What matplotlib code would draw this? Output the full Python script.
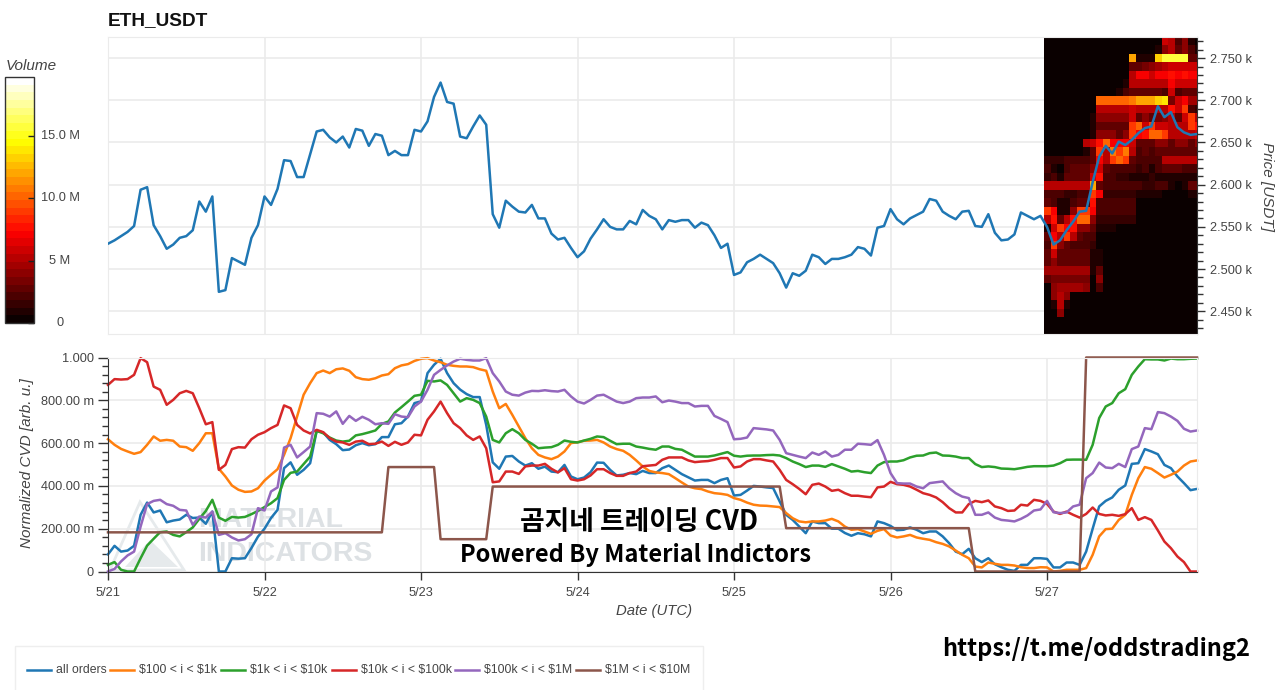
import matplotlib
matplotlib.use('agg')
import matplotlib.pyplot as plt
from matplotlib.lines import Line2D
from matplotlib.patches import Polygon, Rectangle
from matplotlib.ticker import MultipleLocator
import numpy as np

plt.rcParams['font.family'] = ['Liberation Sans', 'DejaVu Sans']

W, H = 1280, 690

day_labels = ['5/21', '5/22', '5/23', '5/24', '5/25', '5/26', '5/27']
price_ticks = [2450, 2500, 2550, 2600, 2650, 2700, 2750]
price_labels = ['2.450 k', '2.500 k', '2.550 k', '2.600 k', '2.650 k', '2.700 k', '2.750 k']
cvd_ticks = [0, 0.2, 0.4, 0.6, 0.8, 1.0]
cvd_labels = ['0', '200.00 m', '400.00 m', '600.00 m', '800.00 m', '1.000']
vol_ticks = [0, 5, 10, 15]
vol_labels = ['0', '5 M', '10.0 M', '15.0 M']

# hourly close, starts 5/21 00:00
price = [
    2530, 2534, 2539, 2544, 2551, 2594, 2597, 2552, 2539, 2524,
    2529, 2537, 2539, 2546, 2580, 2568, 2586, 2473, 2475, 2513,
    2509, 2505, 2537, 2552, 2586, 2576, 2595, 2629, 2628, 2609,
    2609, 2636, 2663, 2665, 2656, 2650, 2657, 2644, 2666, 2664,
    2646, 2660, 2658, 2635, 2640, 2635, 2635, 2665, 2663, 2675,
    2704, 2721, 2698, 2696, 2657, 2655, 2669, 2682, 2671, 2565,
    2549, 2581, 2574, 2568, 2567, 2576, 2560, 2560, 2542, 2535,
    2537, 2525, 2514, 2521, 2536, 2547, 2559, 2550, 2547, 2547,
    2557, 2553, 2570, 2563, 2559, 2547, 2558, 2556, 2558, 2558,
    2549, 2555, 2552, 2540, 2525, 2530, 2493, 2496, 2508, 2512,
    2517, 2512, 2507, 2495, 2478, 2495, 2492, 2498, 2517, 2514,
    2506, 2512, 2512, 2514, 2517, 2526, 2524, 2516, 2549, 2551,
    2571, 2559, 2553, 2560, 2564, 2568, 2583, 2581, 2568, 2563,
    2559, 2568, 2569, 2551, 2550, 2565, 2543, 2534, 2535, 2541,
    2567, 2563, 2559, 2563, 2550, 2529, 2534, 2546, 2556, 2568,
    2569, 2603, 2633, 2646, 2637, 2651, 2647, 2653, 2661, 2667,
    2669, 2693, 2680, 2686, 2668, 2662, 2659, 2660,
]

all_orders = [
    .08, .12, .093, .098, .12, .265, .322, .276, .285, .23,
    .238, .243, .265, .25, .252, .223, .28, 0, 0, .062,
    .06, .062, .11, .163, .2, .25, .288, .483, .51, .452,
    .475, .506, .657, .65, .615, .595, .567, .57, .59, .6,
    .59, .595, .628, .628, .688, .693, .724, .787, .795, .927,
    .966, .994, .927, .88, .85, .829, .815, .815, .685, .51,
    .48, .537, .54, .514, .495, .506, .48, .49, .467, .464,
    .498, .444, .431, .439, .464, .509, .508, .475, .449, .452,
    .46, .455, .47, .46, .46, .483, .495, .475, .455, .44,
    .425, .428, .428, .413, .428, .436, .355, .358, .378, .4,
    .397, .393, .39, .327, .265, .241, .21, .179, .234, .226,
    .226, .2, .2, .18, .167, .179, .174, .164, .234, .226,
    .213, .193, .195, .206, .195, .179, .187, .187, .164, .132,
    .093, .081, .106, .062, .044, .062, .034, .02, .008, .003,
    .031, .031, .062, .062, .059, .019, .019, .042, .042, .031,
    .093, .2, .304, .33, .346, .382, .402, .503, .506, .572,
    .561, .548, .498, .483, .444, .413, .38, .386,
]
size_100_1k = [
    .618, .592, .573, .561, .55, .558, .592, .631, .611, .615,
    .611, .584, .581, .564, .6, .646, .646, .48, .444, .402,
    .382, .372, .374, .389, .425, .452, .478, .545, .623, .724,
    .826, .88, .927, .939, .927, .945, .949, .938, .908, .899,
    .896, .903, .916, .922, .95, .963, .969, .984, .994, .997,
    .986, .978, .966, .961, .958, .958, .955, .945, .938, .841,
    .763, .783, .732, .678, .623, .576, .545, .533, .525, .537,
    .561, .6, .604, .611, .612, .615, .603, .584, .572, .564,
    .545, .519, .491, .47, .463, .46, .455, .436, .416, .397,
    .389, .385, .374, .366, .363, .358, .343, .335, .322, .312,
    .308, .307, .304, .301, .273, .249, .234, .23, .234, .234,
    .238, .246, .234, .21, .195, .198, .187, .176, .19, .198,
    .168, .159, .164, .171, .159, .153, .148, .137, .129, .117,
    .098, .078, .062, .023, .019, .042, .036, .031, .031, .028,
    .02, .016, .016, .02, .019, 0, .003, .008, .008, .008,
    .016, .078, .164, .198, .2, .241, .265, .358, .436, .488,
    .48, .46, .439, .452, .467, .495, .514, .519,
]
size_1k_10k = [
    .031, .044, .008, 0, 0, .062, .121, .153, .184, .187,
    .171, .164, .184, .206, .246, .283, .335, .252, .237, .255,
    .252, .255, .268, .283, .301, .319, .343, .428, .461, .467,
    .502, .537, .657, .646, .626, .612, .607, .611, .636, .642,
    .65, .659, .69, .701, .743, .768, .794, .821, .826, .891,
    .888, .893, .872, .833, .794, .81, .802, .787, .724, .615,
    .603, .646, .665, .646, .615, .597, .576, .579, .581, .592,
    .612, .606, .603, .612, .62, .631, .628, .611, .595, .597,
    .597, .584, .579, .573, .569, .584, .584, .573, .569, .553,
    .537, .537, .537, .542, .55, .558, .541, .537, .541, .542,
    .542, .544, .545, .542, .53, .514, .502, .488, .495, .495,
    .489, .502, .491, .48, .467, .47, .464, .46, .495, .511,
    .514, .514, .52, .533, .541, .542, .553, .556, .542, .541,
    .537, .53, .53, .502, .488, .491, .488, .481, .48, .478,
    .483, .489, .492, .492, .492, .495, .506, .522, .523, .523,
    .522, .592, .717, .771, .787, .833, .852, .919, .958, .992,
    .991, .991, .986, .995, .992, .992, .994, .995,
]
size_10k_100k = [
    .872, .899, .897, .899, .919, .997, .978, .864, .849, .779,
    .802, .833, .844, .833, .763, .688, .698, .475, .498, .572,
    .581, .579, .618, .639, .651, .67, .685, .776, .763, .685,
    .659, .645, .662, .651, .623, .607, .603, .592, .607, .611,
    .595, .597, .607, .587, .606, .592, .603, .639, .636, .709,
    .748, .794, .74, .693, .67, .636, .615, .631, .576, .417,
    .421, .467, .467, .456, .491, .495, .495, .503, .48, .463,
    .483, .431, .425, .431, .449, .478, .478, .46, .447, .447,
    .46, .467, .492, .495, .498, .522, .533, .533, .533, .519,
    .511, .514, .516, .522, .53, .53, .486, .491, .514, .525,
    .525, .519, .514, .475, .428, .408, .386, .361, .405, .411,
    .397, .377, .382, .366, .354, .354, .35, .347, .393, .397,
    .419, .408, .405, .397, .382, .366, .358, .346, .324, .296,
    .276, .276, .315, .33, .324, .332, .304, .296, .283, .285,
    .312, .308, .335, .33, .316, .28, .269, .28, .265, .252,
    .269, .299, .269, .262, .265, .26, .268, .296, .241, .254,
    .241, .192, .14, .109, .07, .044, 0, 0,
]
size_100k_1m = [
    0, .012, .047, .075, .093, .21, .315, .33, .335, .315,
    .307, .288, .285, .218, .257, .252, .28, .171, .179, .159,
    .145, .151, .174, .296, .285, .374, .393, .579, .592, .533,
    .558, .584, .74, .737, .724, .748, .69, .727, .704, .723,
    .709, .688, .693, .69, .735, .724, .721, .771, .794, .849,
    .919, .942, .963, .981, .994, .989, .986, .986, .997, .927,
    .888, .841, .826, .822, .836, .844, .843, .847, .843, .841,
    .849, .818, .794, .785, .802, .822, .826, .81, .794, .787,
    .794, .81, .813, .813, .818, .791, .799, .794, .787, .787,
    .771, .774, .774, .727, .713, .698, .618, .62, .626, .67,
    .667, .664, .659, .615, .553, .545, .537, .53, .556, .545,
    .561, .537, .545, .569, .569, .597, .595, .592, .614, .545,
    .46, .413, .411, .411, .397, .389, .413, .417, .421, .389,
    .366, .35, .343, .265, .265, .276, .252, .241, .238, .234,
    .246, .262, .285, .29, .33, .277, .273, .276, .304, .312,
    .436, .46, .509, .486, .483, .503, .488, .572, .584, .67,
    .665, .745, .74, .724, .704, .667, .654, .659,
]
size_1m_10m = ([.183] * 43 + [.488] * 8 + [.151] * 8 + [.397] * 45
               + [.2025] * 29 + [0] * 17 + [1.0] * 18)

# volume in M per price bin (rows, 2775 down to 2425, 10 USD) and hour (cols, 5/27)
volume = [
    [.1,.1,.1,.1,.1,.1,.1,.1,.1,.1,.1,.1,.1,.1,.1,.1,.1,.5,6,5,2,4,1,.5],
    [.1,.1,.1,.1,.1,.1,.1,.1,.1,.1,.1,.1,.1,.1,.1,.1,.5,1,4,5,3,4,2,1],
    [.1,.1,.1,.1,.1,.1,.1,.1,.1,.1,.1,.1,.1,12,1,1,1,13,15.5,15.5,15.5,15.5,3,3],
    [.1,.1,.1,.1,.1,.1,.1,.1,.1,.1,.1,.1,.1,3,3,3.5,4,4.5,5.5,6,6,6,6,6],
    [.1,.1,.1,.1,.1,.1,.1,.1,.1,.1,.1,.1,.1,5,7,7,6,7,7,8,7,8,7,7],
    [.1,.1,.1,.1,.1,.1,.1,.1,.1,.1,.1,.1,1,5,5,5,5,5,5.5,7,6,6,6,6],
    [.1,.1,.1,.1,.1,.1,.1,.1,.1,.1,.1,1,2,2.5,3,3,3,3,2,6,2,2.5,3,3],
    [.1,.1,.1,.1,.1,.1,.1,.1,10,10,10,10,10,11,12,12,12,13,14,3.5,6,7,4.5,4.5],
    [.1,.1,.1,.1,.1,.1,.1,.5,5,5,5,5,5,6,5,5,5,5,5,8,6,9,2,1.5],
    [.1,.1,.1,.1,.1,.1,.1,1,4,4,4,4,4,6,2.5,4,2.5,3.5,4,5,3,6,9,5],
    [.1,.1,.1,.1,.1,.1,.1,1,3,3,3,3,3,9,10,6,9,6,6,5,5,5,9,8],
    [.1,.1,.1,.1,.1,.1,.1,1,4,4,4,3,4,9,7,8,10,10,9,5,5,5,5,6],
    [.1,.1,.1,.1,.1,.1,5,6,8,10,7,7,7,6,3,3,3,4,4,3,4,4,3,4],
    [.1,.1,.1,.1,.1,.1,1,3,9,5,11,9,11,5,2,3,2,3,3,3,3,3,3,3],
    [1.5,1.5,1.5,2,2,2,2,3,7,5,9,10,9,3,2,2,2,2,5,5,5,5,5,5],
    [2,1,.5,2,3,3,3,4,6,3,2,2,2,2,1.5,2,1,2,3,3,3,2,2,2],
    [1.5,2,1,3,3,3,3,6,8,2,2,1.5,1.5,1,1,1,1.5,1,1,1,1,1,1,1],
    [5.5,5.5,5.5,5.5,5.5,5.5,5.5,12,3,2,2,2,2,2,2,1.5,1.5,2,2,1,.5,1,3,3],
    [2,2,2,1.5,1.5,2,2,9,7,1.5,1.5,1.5,1.5,1.5,1,1,1,1,.5,.5,.5,.5,1,1],
    [3,2,1,1,2,3,3,8,2,2,2,2,2,2,.5,.5,.5,.5,.3,.3,.3,.3,.3,.3],
    [9,7,1,1,4,9,9,7,2,2,2,2,2,2,.3,.3,.3,.3,.2,.2,.2,.2,.2,.2],
    [5,8,3,5,8,10,10,4,1.5,1.5,1.5,1.5,1.5,1.5,.3,.3,.2,.2,.2,.2,.2,.2,.2,.2],
    [1,6,9,7,8,4,4,3,1,1,1,.5,.3,.3,.2,.2,.2,.1,.1,.1,.1,.1,.1,.1],
    [3,7,5,9,5,3,2,2,.5,.5,.3,.2,.2,.2,.1,.1,.1,.1,.1,.1,.1,.1,.1,.1],
    [2,9,4,3,2,2,2,1.5,.5,.3,.2,.2,.1,.1,.1,.1,.1,.1,.1,.1,.1,.1,.1,.1],
    [3,6,3,3,3,3,3,1,.8,.2,.1,.1,.1,.1,.1,.1,.1,.1,.1,.1,.1,.1,.1,.1],
    [3,4,3,2.5,2.5,2.5,2.5,1,.8,.1,.1,.1,.1,.1,.1,.1,.1,.1,.1,.1,.1,.1,.1,.1],
    [4.5,4.5,4.5,4.5,4.5,4.5,4.5,1,3,.1,.1,.1,.1,.1,.1,.1,.1,.1,.1,.1,.1,.1,.1,.1],
    [3,3.5,3.5,3.5,3.5,3.5,3.5,.5,4,.1,.1,.1,.1,.1,.1,.1,.1,.1,.1,.1,.1,.1,.1,.1],
    [.1,4,4.5,4.5,4.5,4.5,4,.3,2,.1,.1,.1,.1,.1,.1,.1,.1,.1,.1,.1,.1,.1,.1,.1],
    [.1,4,5,4,.5,.1,.1,.1,.1,.1,.1,.1,.1,.1,.1,.1,.1,.1,.1,.1,.1,.1,.1,.1],
    [.1,1,5,1,.1,.1,.1,.1,.1,.1,.1,.1,.1,.1,.1,.1,.1,.1,.1,.1,.1,.1,.1,.1],
    [.1,.5,4,.5,.1,.1,.1,.1,.1,.1,.1,.1,.1,.1,.1,.1,.1,.1,.1,.1,.1,.1,.1,.1],
    [.1,.1,.3,.1,.1,.1,.1,.1,.1,.1,.1,.1,.1,.1,.1,.1,.1,.1,.1,.1,.1,.1,.1,.1],
    [.1,.1,.1,.1,.1,.1,.1,.1,.1,.1,.1,.1,.1,.1,.1,.1,.1,.1,.1,.1,.1,.1,.1,.1],
]

cvd_series = [
    ('all orders', all_orders, '#1f77b4'),
    ('\\$100 < i < \\$1k', size_100_1k, '#ff7f0e'),
    ('\\$1k < i < \\$10k', size_1k_10k, '#2ca02c'),
    ('\\$10k < i < \\$100k', size_10k_100k, '#d62728'),
    ('\\$100k < i < \\$1M', size_100k_1m, '#9467bd'),
    ('\\$1M < i < \\$10M', size_1m_10m, '#8c564b'),
]

hours = np.arange(len(price))
day_ticks = np.arange(0, 168, 24)
GRID = '#ebebeb'
TEXT = '#444444'
AXIS = '#333333'


def px_axes(fig, x0, y0, x1, y1):
    # axes from pixel box, y counted from the top
    return fig.add_axes([x0 / W, 1 - y1 / H, (x1 - x0) / W, (y1 - y0) / H])


def fig_text(fig, x, y, s, **kw):
    return fig.text(x / W, 1 - y / H, s, **kw)


fig = plt.figure(figsize=(W / 100, H / 100), dpi=100)

# price panel
ax = px_axes(fig, 108, 37, 1197, 334)
ax.set_axisbelow(True)
ax.grid(True, color=GRID, linewidth=1.2)
ax.set_xticks(day_ticks)
ax.tick_params(axis='x', length=0, labelbottom=False)
ax.yaxis.tick_right()
ax.set_yticks(price_ticks)
ax.set_yticklabels(price_labels)
ax.yaxis.set_minor_locator(MultipleLocator(10))
ax.tick_params(axis='y', which='major', length=6, width=1, color=AXIS, labelcolor=TEXT, labelsize=9.2, pad=3)
ax.tick_params(axis='y', which='minor', length=4, width=1, color=AXIS)
for side in ['left', 'top', 'bottom']:
    ax.spines[side].set_color(GRID)
ax.spines['right'].set_color(AXIS)

cmap = plt.get_cmap('hot', 32)
im = ax.imshow(volume, cmap=cmap, vmin=0, vmax=19.7, aspect='auto', origin='upper',
               extent=(143.5, 167.5, 2423, 2775), interpolation='nearest', zorder=2)
ax.set_xlim(0, 167)
ax.set_ylim(2423, 2775)
ax.plot(hours, price, color='#1f77b4', linewidth=1.8, zorder=3)

fig_text(fig, 108, 21, 'ETH_USDT', fontsize=13.7, fontweight='bold', color='#111111', va='center')
fig_text(fig, 1267, 187, 'Price [USDT]', fontsize=11, style='italic', color=TEXT,
         rotation=270, ha='center', va='center')

# volume colorbar
cax = px_axes(fig, 5, 77, 34, 323)
cb = fig.colorbar(im, cax=cax)
cb.set_ticks(vol_ticks)
cb.set_ticklabels([])
cb.minorticks_off()
cax.tick_params(axis='y', direction='in', length=4, width=1, color='#222222')
cb.outline.set_edgecolor(AXIS)
cb.outline.set_linewidth(1)
for v, lab in zip(vol_ticks, vol_labels):
    cax.annotate(lab, (1, v), xycoords=cax.get_yaxis_transform(), xytext=(26, 0),
                 textcoords='offset pixels', ha='center', va='center', fontsize=9.2, color=TEXT)
fig_text(fig, 6, 66, 'Volume', fontsize=11, style='italic', color=TEXT, va='center')

# CVD panel, above the watermark
ax2 = px_axes(fig, 108, 357.5, 1197, 571.5)
ax2.set_zorder(1)
ax2.patch.set_alpha(0)
ax2.set_xlim(0, 167)
ax2.set_ylim(0, 1)
ax2.set_axisbelow(True)
ax2.grid(True, color=GRID, linewidth=1.2)
ax2.set_xticks(day_ticks)
ax2.set_xticklabels(day_labels)
ax2.set_yticks(cvd_ticks)
ax2.set_yticklabels(cvd_labels)
ax2.yaxis.set_minor_locator(MultipleLocator(0.04))
ax2.tick_params(axis='x', which='major', length=6, width=1, color=AXIS, labelcolor=TEXT, labelsize=9.2, pad=5)
ax2.tick_params(axis='y', which='major', length=7, width=1, color=AXIS, labelcolor=TEXT, labelsize=9.2, pad=3)
ax2.tick_params(axis='y', which='minor', length=4, width=1, color=AXIS)
for side in ['right', 'top']:
    ax2.spines[side].set_color(GRID)
for side in ['left', 'bottom']:
    ax2.spines[side].set_color(AXIS)

# watermark
wm = '#dde1e4'
fig_text(fig, 198, 520, 'MATERIAL', fontsize=20.5, fontweight='bold', color=wm, va='center', zorder=0.5)
fig_text(fig, 198, 554, 'INDICATORS', fontsize=20.5, fontweight='bold', color=wm, va='center', zorder=0.5)
logo = Polygon([[140 / W, 1 - 502 / H], [110 / W, 1 - 570 / H], [184 / W, 1 - 570 / H]], closed=True,
               transform=fig.transFigure, fill=False, edgecolor='#e6eaec', linewidth=2, zorder=0.5)
hill = Polygon([[150 / W, 1 - 540 / H], [125 / W, 1 - 567 / H], [178 / W, 1 - 567 / H]], closed=True,
               transform=fig.transFigure, facecolor='#e6eaec', edgecolor='none', zorder=0.5)
fig.add_artist(logo)
fig.add_artist(hill)

for label, values, color in cvd_series:
    ax2.plot(hours, values, color=color, linewidth=1.8, clip_on=False, solid_joinstyle='round')

fig_text(fig, 27, 463, 'Normalized CVD [arb. u.]', fontsize=11, style='italic', color=TEXT,
         rotation=90, ha='center', va='center')
fig_text(fig, 654, 611, 'Date (UTC)', fontsize=10.7, style='italic', color=TEXT, ha='center', va='center')

# overlay captions
cap_font = ['Noto Sans CJK KR', 'DejaVu Sans']
fig_text(fig, 639, 522, '곰지네 트레이딩 CVD', family=cap_font, fontsize=19.3,
         fontweight='bold', color='black', ha='center', va='center', zorder=5)
fig_text(fig, 636, 555, 'Powered By Material Indictors', family=cap_font, fontsize=17,
         fontweight='bold', color='black', ha='center', va='center', zorder=5)
fig_text(fig, 1096, 649, 'https://t.me/oddstrading2', family=cap_font, fontsize=17,
         fontweight='bold', color='black', ha='center', va='center', zorder=5)

# legend box runs off the bottom of the image
fig.add_artist(Rectangle((15 / W, -0.01), 688 / W, 1 - 646 / H + 0.01, transform=fig.transFigure,
                         facecolor='white', edgecolor='#eeeeee', linewidth=1))
legend_x = [27, 110, 221, 332, 455, 576]
for x0, (label, values, color) in zip(legend_x, cvd_series):
    fig.add_artist(Line2D([x0 / W, (x0 + 24) / W], [1 - 670 / H, 1 - 670 / H], color=color, linewidth=1.8))
    fig_text(fig, x0 + 29, 670, label, fontsize=8.8, color=TEXT, va='center')

fig.savefig('out.png', dpi=100)
plt.close('all')
